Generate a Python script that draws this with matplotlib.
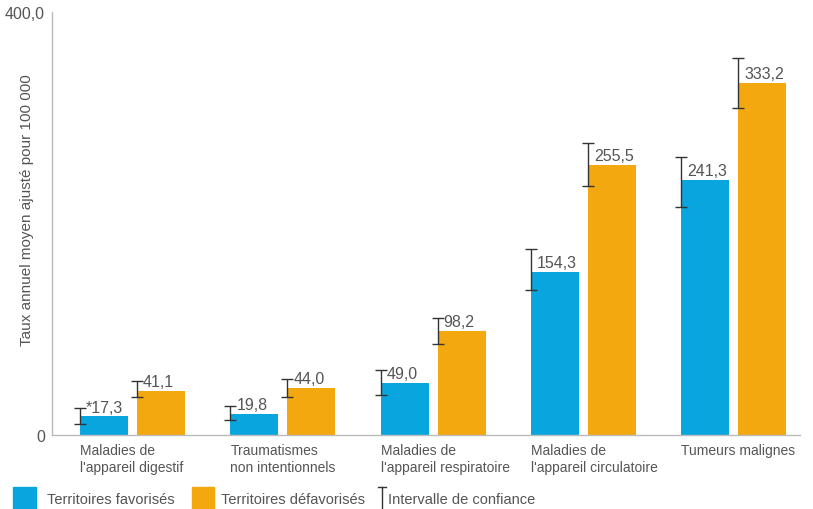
import matplotlib
matplotlib.use("Agg")
import matplotlib.pyplot as plt
from matplotlib.patches import Rectangle
from matplotlib.lines import Line2D
import numpy as np

plt.rcParams['font.family'] = ['Liberation Sans', 'DejaVu Sans']

categories = ["Maladies de\nl'appareil digestif", "Traumatismes\nnon intentionnels",
              "Maladies de\nl'appareil respiratoire", "Maladies de\nl'appareil circulatoire",
              "Tumeurs malignes"]
favorises = [17.3, 19.8, 49.0, 154.3, 241.3]
defavorises = [41.1, 44.0, 98.2, 255.5, 333.2]
fav_labels = ["*17,3", "19,8", "49,0", "154,3", "241,3"]
defav_labels = ["41,1", "44,0", "98,2", "255,5", "333,2"]
# confidence intervals (low, high)
fav_ci_low = [10.4, 13.5, 37.3, 136.6, 215.4]
fav_ci_high = [25.2, 27.4, 61.6, 175.4, 262.7]
defav_ci_low = [35.4, 36.1, 86.3, 235.6, 308.9]
defav_ci_high = [50.6, 52.9, 110.2, 275.9, 356.9]

BLUE = "#09a5de"
ORANGE = "#f4a80f"
TXT = "#555555"

W, H = 813, 510
fig = plt.figure(figsize=(W / 100, H / 100), dpi=100)
ax = fig.add_axes([52 / W, 1 - 435.7 / H, 748 / W, (435.7 - 13) / H])

x = np.arange(len(categories))
w = 0.32
off = 0.19
ax.bar(x - off, favorises, width=w, color=BLUE, zorder=2)
ax.bar(x + off, defavorises, width=w, color=ORANGE, zorder=2)

fav_left = x - off - w / 2
def_left = x + off - w / 2

def err(vals, lo, hi):
    v = np.array(vals)
    return [v - np.array(lo), np.array(hi) - v]

ax.errorbar(fav_left, favorises, yerr=err(favorises, fav_ci_low, fav_ci_high),
            fmt='none', ecolor='#333333', elinewidth=1.0, capsize=4.5, capthick=1.0, zorder=3)
ax.errorbar(def_left, defavorises, yerr=err(defavorises, defav_ci_low, defav_ci_high),
            fmt='none', ecolor='#333333', elinewidth=1.0, capsize=4.5, capthick=1.0, zorder=3)

for xl, v, s in zip(fav_left, favorises, fav_labels):
    ax.text(xl + 0.04, v + 1.8, s, ha='left', va='bottom', fontsize=11.5, color=TXT)
for xl, v, s in zip(def_left, defavorises, defav_labels):
    ax.text(xl + 0.04, v + 1.8, s, ha='left', va='bottom', fontsize=11.5, color=TXT)

ax.set_xlim(-0.536, -0.536 + 748 / 150.3)
ax.set_ylim(0, 400)
ax.set_yticks([0, 400])
ax.set_yticklabels(["0", "400,0"], fontsize=11.5, color=TXT)
ax.set_xticks(fav_left)
ax.set_xticklabels(categories, fontsize=10, color=TXT, ha='left', linespacing=1.3)
ax.tick_params(axis='both', length=0, pad=6)
ax.tick_params(axis='y', pad=5)
for sp in ['top', 'right']:
    ax.spines[sp].set_visible(False)
for sp in ['left', 'bottom']:
    ax.spines[sp].set_color('#bbbbbb')
    ax.spines[sp].set_linewidth(1.0)
ax.set_ylabel("Taux annuel moyen ajusté pour 100 000", fontsize=11, color=TXT)
ax.yaxis.set_label_coords(-18 / 748, 0.534)

# legend
def px(xp, yp):
    return xp / W, 1 - yp / H

fig.add_artist(Rectangle(px(13, 510), 23 / W, 22 / H, color=BLUE, transform=fig.transFigure))
fig.text(*px(47, 500), "Territoires favorisés", fontsize=10.5, color=TXT, va='center', ha='left')
fig.add_artist(Rectangle(px(192, 510), 22 / W, 22 / H, color=ORANGE, transform=fig.transFigure))
fig.text(*px(221, 500), "Territoires défavorisés", fontsize=10.5, color=TXT, va='center', ha='left')
lx = 382
fig.add_artist(Line2D([lx / W, lx / W], [1 - 488 / H, 1 - 512 / H], color='#333333', lw=1.0, transform=fig.transFigure))
fig.add_artist(Line2D([(lx - 4) / W, (lx + 4) / W], [1 - 488 / H, 1 - 488 / H], color='#333333', lw=1.0, transform=fig.transFigure))
fig.text(*px(388, 500), "Intervalle de confiance", fontsize=10.5, color=TXT, va='center', ha='left')

fig.savefig("out.png", dpi=100, facecolor='white')
